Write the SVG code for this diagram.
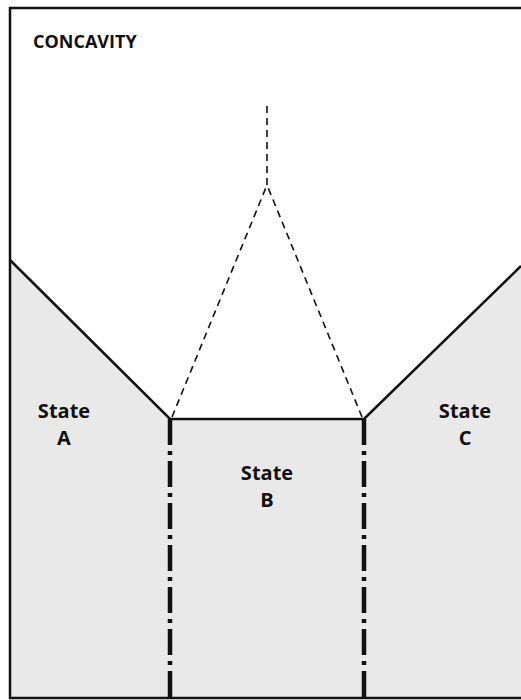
<svg xmlns="http://www.w3.org/2000/svg" width="521" height="700" viewBox="0 0 521 700">
<style>
.lbl{font-family:"Open Sans","Liberation Sans",sans-serif;font-weight:bold;fill:#111;text-anchor:middle;font-size:20px}
.solid{stroke:#111;stroke-width:2.5;fill:none}
.dash{stroke:#111;stroke-width:1.6;fill:none;stroke-dasharray:7 5}
.dashdot{stroke:#111;stroke-width:4.5;fill:none;stroke-dasharray:26 6 4 6}
</style>
<rect x="0" y="0" width="521" height="700" fill="#fff"/>
<g id="regions">
<polygon points="10,260 170,419 364,419 521,266 521,698 10,698" fill="#e9e9e9"/>
</g>
<g id="frame">
<polyline class="solid" points="521,8 10,8 10,698 521,698"/>
</g>
<g id="connectors">
<polyline class="solid" points="10,260 170,419 364,419 521,266"/>
<line class="dash" x1="172" y1="417" x2="267" y2="185"/>
<line class="dash" x1="362" y1="417" x2="267" y2="185"/>
<line class="dash" x1="267" y1="185" x2="267" y2="104"/>
<line class="dashdot" x1="170" y1="419" x2="170" y2="698"/>
<line class="dashdot" x1="364" y1="419" x2="364" y2="698"/>
</g>
<g id="title"><text x="33" y="48" class="lbl" style="text-anchor:start;font-size:18px">CONCAVITY</text></g>
<g id="stateA"><text class="lbl" x="64" y="418">State</text><text class="lbl" x="64" y="445">A</text></g>
<g id="stateB"><text class="lbl" x="267" y="480">State</text><text class="lbl" x="267" y="507">B</text></g>
<g id="stateC"><text class="lbl" x="465" y="418">State</text><text class="lbl" x="465" y="445">C</text></g>
</svg>
